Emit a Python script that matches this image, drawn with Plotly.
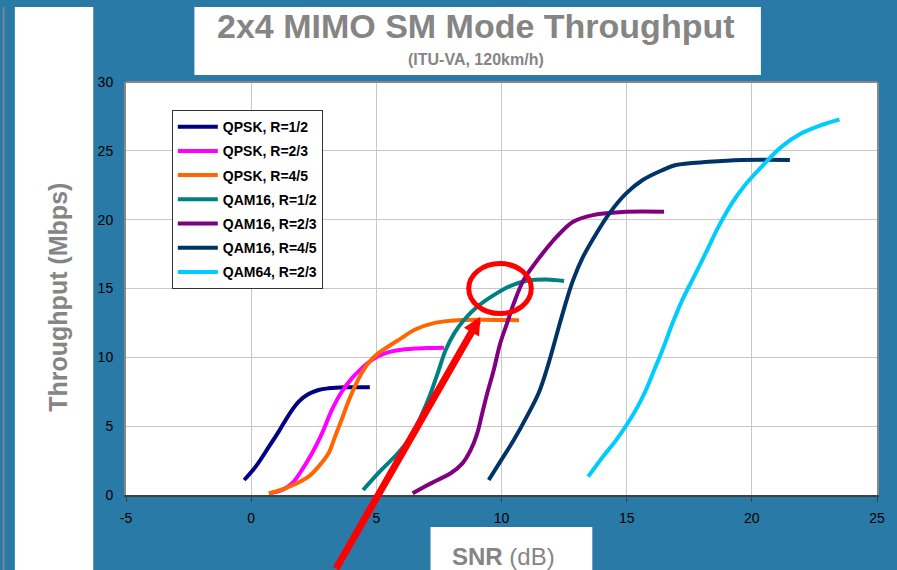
import plotly.graph_objects as go

# --- data (SNR in dB, throughput in Mbps) ---
series_names = ["QPSK, R=1/2", "QPSK, R=2/3", "QPSK, R=4/5",
                "QAM16, R=1/2", "QAM16, R=2/3", "QAM16, R=4/5", "QAM64, R=2/3"]
series_colors = ["#000080", "#FF00FF", "#FF6600", "#008080",
                 "#800080", "#003366", "#00CCFF"]

qpsk_12_snr = [-0.28, 0.18, 0.71, 1.1, 1.5, 1.9, 2.29, 2.69, 3.09, 3.75, 4.74]
qpsk_12_tp = [1.09, 2.06, 3.51, 4.6, 5.81, 6.78, 7.33, 7.63, 7.75, 7.82, 7.82]

qpsk_23_snr = [0.71, 1.24, 1.64, 2.03, 2.43, 2.83, 3.22, 3.62, 4.02, 4.41, 4.81,
               5.34, 6.0, 7.0, 7.7]
qpsk_23_tp = [0.12, 0.36, 0.85, 1.82, 3.03, 4.48, 6.17, 7.5, 8.47, 9.2, 9.8,
              10.29, 10.55, 10.67, 10.7]

qpsk_45_snr = [0.71, 1.24, 1.77, 2.29, 2.69, 3.09, 3.35, 3.61, 3.88, 4.14, 4.41,
               4.67, 5.07, 5.46, 5.99, 6.53, 7.33, 8.24, 10.7]
qpsk_45_tp = [0.12, 0.41, 0.8, 1.33, 2.06, 3.03, 4.24, 5.45, 6.78, 7.87, 8.84,
              9.56, 10.29, 10.77, 11.38, 12.0, 12.5, 12.7, 12.7]

qam16_12_snr = [4.47, 5.2, 5.86, 6.39, 6.78, 7.12, 7.45, 7.77, 8.11, 8.5, 9.03,
                9.69, 10.35, 11.01, 11.8, 12.5]
qam16_12_tp = [0.36, 1.82, 3.03, 4.24, 5.69, 7.14, 8.84, 10.53, 11.74, 12.71,
               13.67, 14.52, 15.18, 15.56, 15.66, 15.55]

qam16_23_snr = [6.45, 6.92, 7.45, 7.97, 8.44, 8.77, 9.03, 9.23, 9.43, 9.69, 9.95,
                10.22, 10.49, 10.88, 11.34, 11.8, 12.2, 12.86, 13.65, 14.98, 16.49]
qam16_23_tp = [0.12, 0.6, 1.09, 1.58, 2.3, 3.27, 4.48, 5.93, 7.39, 9.08, 11.02,
               12.47, 13.92, 15.61, 16.83, 17.9, 18.75, 19.85, 20.33, 20.57, 20.57]

qam16_45_snr = [9.49, 9.95, 10.49, 11.01, 11.48, 11.8, 12.07, 12.33, 12.6, 12.86,
                13.26, 13.79, 14.31, 14.98, 15.64, 16.43, 16.96, 18.28, 19.6, 21.52]
qam16_45_tp = [1.09, 2.42, 3.99, 5.69, 7.39, 9.08, 10.77, 12.47, 14.16, 15.61,
               17.31, 19.0, 20.46, 21.91, 22.88, 23.6, 23.97, 24.2, 24.33, 24.33]

qam64_23_snr = [13.46, 14.05, 14.58, 15.04, 15.44, 15.77, 16.1, 16.43, 16.83, 17.22,
                17.62, 18.15, 18.67, 19.2, 19.73, 20.39, 21.18, 21.98, 22.77, 23.5]
qam64_23_tp = [1.33, 2.78, 3.99, 5.21, 6.42, 7.63, 9.08, 10.53, 12.47, 14.16,
               15.61, 17.55, 19.49, 21.18, 22.51, 23.84, 25.29, 26.27, 26.87, 27.28]

snr_data = [qpsk_12_snr, qpsk_23_snr, qpsk_45_snr, qam16_12_snr,
            qam16_23_snr, qam16_45_snr, qam64_23_snr]
tp_data = [qpsk_12_tp, qpsk_23_tp, qpsk_45_tp, qam16_12_tp,
           qam16_23_tp, qam16_45_tp, qam64_23_tp]

x_tickvals = [-5, 0, 5, 10, 15, 20, 25]
x_ticktext = ["-5", "0", "5", "10", "15", "20", "25"]

# highlighted point (arrow tip) and the circled region
arrow_tip = (9.15, 12.93)
circle_x = (8.69, 11.19)
circle_y = (13.18, 16.81)

BLUE = "#2A7AA7"
GRAY = "#858585"
FONT = "Arial, Liberation Sans, sans-serif"

fig = go.Figure()

for name, color, xs, ys in zip(series_names, series_colors, snr_data, tp_data):
    fig.add_trace(go.Scatter(
        x=xs, y=ys, name=name, legendgroup=name,
        mode="lines",
        line=dict(color=color, width=4, shape="spline", smoothing=1.0),
    ))

# white panels on the blue slide background
panels = [
    (-0.148, -0.0436, -0.1816, 1.1816),   # left strip behind the y title
    (0.0911, 0.8454, 1.017, 1.1816),      # title box
    (0.4055, 0.6209, -0.1816, -0.0775),   # SNR label box
]
shapes = []
for x0, x1, y0, y1 in panels:
    shapes.append(dict(type="rect", xref="paper", yref="paper",
                       x0=x0, x1=x1, y0=y0, y1=y1,
                       fillcolor="white", line=dict(width=0), layer="below"))
# thin gray edge at far left of the slide
shapes.append(dict(type="line", xref="paper", yref="paper",
                   x0=-0.163, x1=-0.163, y0=-0.1816, y1=1.1816,
                   line=dict(color="#8a8a8a", width=1.5)))
# top border of the plot area
shapes.append(dict(type="line", xref="paper", yref="paper",
                   x0=0, x1=1, y0=1, y1=1,
                   line=dict(color="#888888", width=2)))
# red circle
shapes.append(dict(type="circle", xref="x", yref="y",
                   x0=circle_x[0], x1=circle_x[1], y0=circle_y[0], y1=circle_y[1],
                   line=dict(color="#FF0000", width=5), layer="above"))

annotations = [
    dict(text="<b>2x4 MIMO SM Mode Throughput</b>", xref="paper", yref="paper",
         x=0.466, y=1.135, xanchor="center", yanchor="middle", showarrow=False,
         font=dict(family=FONT, size=34, color=GRAY)),
    dict(text="<b>(ITU-VA, 120km/h)</b>", xref="paper", yref="paper",
         x=0.466, y=1.054, xanchor="center", yanchor="middle", showarrow=False,
         font=dict(family=FONT, size=16, color=GRAY)),
    dict(text="<b>Throughput (Mbps)</b>", xref="paper", yref="paper",
         x=-0.0898, y=0.479, xanchor="center", yanchor="middle", showarrow=False,
         textangle=-90, font=dict(family=FONT, size=25, color=GRAY)),
    dict(text="<b>SNR</b> (dB)", xref="paper", yref="paper",
         x=0.502, y=-0.148, xanchor="center", yanchor="middle", showarrow=False,
         font=dict(family=FONT, size=24, color=GRAY)),
    dict(text="", x=arrow_tip[0], y=arrow_tip[1], xref="x", yref="y",
         ax=-145, ay=253, showarrow=True, arrowhead=2, arrowsize=0.5,
         arrowwidth=7, arrowcolor="#FF0000"),
]

fig.update_layout(
    width=897, height=570,
    paper_bgcolor=BLUE,
    plot_bgcolor="white",
    margin=dict(l=126, r=14, t=82, b=75),
    font=dict(family=FONT, size=14, color="black"),
    shapes=shapes,
    annotations=annotations,
    showlegend=True,
    legend=dict(
        x=0.061, y=0.932, xanchor="left", yanchor="top",
        bgcolor="white", bordercolor="#333333", borderwidth=1,
        font=dict(family=FONT, size=14, color="black", weight="bold"),
        tracegroupgap=3, itemwidth=40,
    ),
)

fig.update_xaxes(
    range=[-5, 25], tickvals=x_tickvals, ticktext=x_ticktext,
    showgrid=True, gridcolor="#c8c8c8", gridwidth=1,
    showline=True, linecolor="#404040", linewidth=2,
    ticks="outside", ticklen=5, tickcolor="#404040", ticklabelstandoff=4,
    tickfont=dict(family=FONT, size=14, color="black"),
    zeroline=False,
)
fig.update_yaxes(
    range=[0, 30], dtick=5,
    showgrid=True, gridcolor="#c8c8c8", gridwidth=1,
    showline=True, linecolor="#888888", linewidth=2, mirror=True,
    ticks="", ticklabelstandoff=8,
    tickfont=dict(family=FONT, size=14, color="black"),
    zeroline=False,
)

# drop the default page margin so the figure sits at the window's corner
fig.write_html("out.html", config={"displayModeBar": False},
               post_script="document.body.style.margin='0';")
